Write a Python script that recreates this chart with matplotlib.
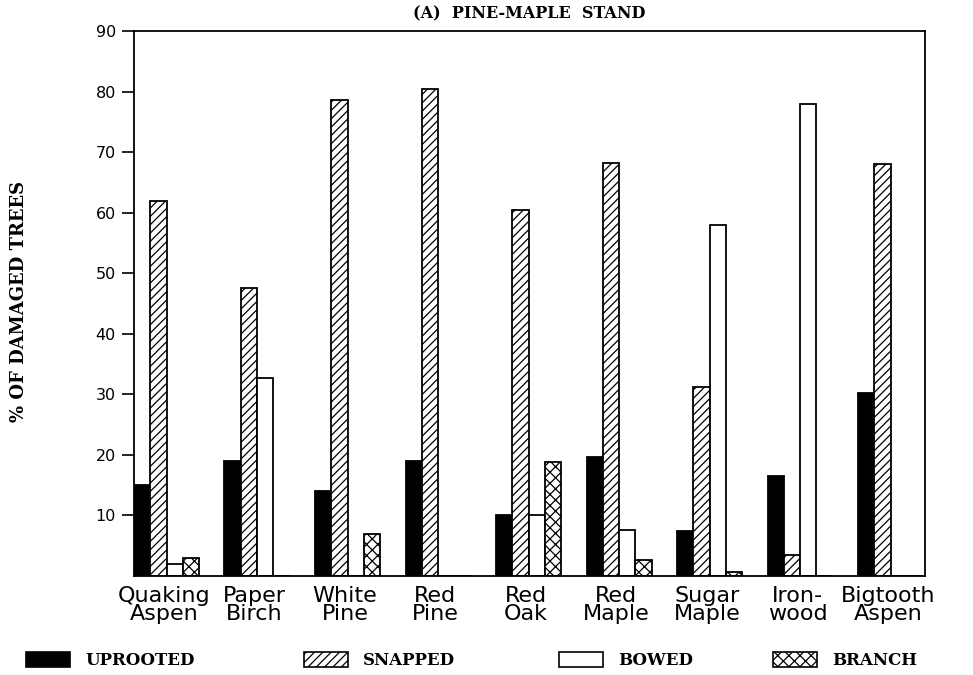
import numpy as np
import matplotlib
matplotlib.use("Agg")
from matplotlib import pyplot as plt
from matplotlib.patches import Patch

species = ["Quaking\nAspen", "Paper\nBirch", "White\nPine", "Red\nPine", "Red\nOak",
           "Red\nMaple", "Sugar\nMaple", "Iron-\nwood", "Bigtooth\nAspen"]
uprooted = [15, 19, 14, 19, 10, 19.7, 7.5, 16.5, 30.3]
snapped = [62, 47.5, 78.7, 80.5, 60.5, 68.2, 31.3, 3.5, 68]
bowed = [2, 32.7, 0, 0, 10, 7.6, 58, 78, 0]
branch = [3, 0, 7, 0, 18.8, 2.7, 0.7, 0, 0]
yticks = [10, 20, 30, 40, 50, 60, 70, 80, 90]

serif = "DejaVu Serif"
bw = 0.18

fig = plt.figure(figsize=(9.73, 6.75), dpi=100)
ax = fig.add_axes([0.1377, 0.1467, 0.813, 0.807])

x = np.arange(len(species))
styles = [
    ("UPROOTED", uprooted, dict(facecolor="black", hatch=None)),
    ("SNAPPED", snapped, dict(facecolor="white", hatch="////")),
    ("BOWED", bowed, dict(facecolor="white", hatch=None)),
    ("BRANCH", branch, dict(facecolor="white", hatch="xxx")),
]
plt.rcParams["hatch.linewidth"] = 0.9
for k, (name, vals, st) in enumerate(styles):
    ax.bar(x + k * bw, vals, width=bw, align="edge", edgecolor="black",
           linewidth=1.3, **st)

ax.set_xlim(0, 8.74)
ax.set_ylim(0, 90)
ax.set_yticks(yticks)
ax.set_yticklabels([str(t) for t in yticks], fontsize=11.5)
ax.tick_params(axis="y", direction="out", length=9, width=1.2, pad=4)
ax.set_xticks(x + 0.33)
ax.set_xticklabels(species, fontsize=16, linespacing=0.9)
ax.tick_params(axis="x", length=0, pad=7)
for s in ax.spines.values():
    s.set_linewidth(1.3)

ax.set_title("(A)  PINE-MAPLE  STAND", fontfamily=serif, fontsize=11.5,
             fontweight="bold", pad=9)
fig.text(0.02, 0.553, "% OF DAMAGED TREES", rotation=90, fontfamily=serif,
         fontsize=13, fontweight="bold", ha="center", va="center")

# legend entries spread across the bottom
leg_x = [0.0267, 0.312, 0.5745, 0.794]
for (name, vals, st), lx in zip(styles, leg_x):
    h = Patch(edgecolor="black", linewidth=1.2, label=name, **st)
    fig.legend(handles=[h], loc="center left", bbox_to_anchor=(lx, 0.021),
               frameon=False, handlelength=2.65, handleheight=0.95,
               handletextpad=0.9, borderaxespad=0, borderpad=0,
               prop={"family": serif, "size": 12, "weight": "bold"})

fig.savefig("out.png", dpi=100)
